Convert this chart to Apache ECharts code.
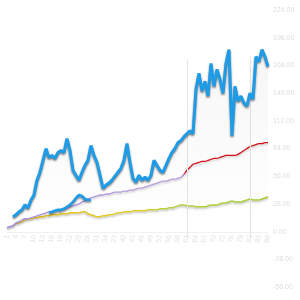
<!DOCTYPE html>
<html><head><meta charset="utf-8">
<script src="https://cdn.jsdelivr.net/npm/echarts@6/dist/echarts.min.js"></script>
<style>html,body{margin:0;padding:0;background:#fff}#c{width:300px;height:300px}</style>
</head><body><div id="c"></div>
<script>
var categories = ['1','2','3','4','5','6','7','8','9','10','11','12','13','14','15','16','17','18','19','20','21','22','23','24','25','26','27','28','29','30','31','32','33','34','35','36','37','38','39','40','41','42','43','44','45','46','47','48','49','50','51','52','53','54','55','56','57','58','59','60','61','62','63','64','65','66','67','68','69','70','71','72','73','74','75','76','77','78','79','80','81','82','83','84','85','86','87','88'];
var priceMain = [null,null,15,17,20,22,27,24,32,37,52,60,72,84,75,77,74,80,82,80,94,82,62,57,52,60,67,72,87,77,70,57,44,47,49,52,56,60,64,72,89,70,54,50,57,52,55,52,57,72,67,62,60,67,74,80,84,90,92,96,99,102,99,144,160,142,152,137,170,147,164,154,140,170,184,97,147,132,137,130,127,140,134,177,172,184,177,167];
var priceLow = [null,null,null,null,null,null,null,null,null,null,null,null,null,null,19,20,21,22,22,23,25,27,30,34,37,36,33,32,32,null,null,null,null,null,null,null,null,null,null,null,null,null,null,null,null,null,null,null,null,null,null,null,null,null,null,null,null,null,null,null,null,null,null,null,null,null,null,null,null,null,null,null,null,null,null,null,null,null,null,null,null,null,null,null,null,null,null,null];
var trendUpper = [4,5,6,9,10,12,13,13,14,15,16,17,18,19,20,20,21,22,22,23,24,25,26,27,28,30,31,33,34,35,36,37,37,38,38,39,40,40,40,41,41,42,42,43,44,44,45,46,47,48,49,50,51,51,52,53,53,54,55,58,62,65,68,69,70,71,71,72,73,74,74,75,76,77,77,77,77,78,80,82,84,86,87,88,89,89,90,90];
var trendLower = [4,5,6,8,9,10,12,13,13,14,14,15,15,16,16,17,17,17,18,18,18,19,19,19,19,20,20,18,17,16,15,15,16,16,17,17,18,19,19,20,20,20,21,21,21,21,21,22,22,22,22,23,23,23,24,24,25,26,27,27,26,26,26,25,25,25,25,26,27,27,27,28,29,29,30,31,30,30,30,31,32,33,32,32,32,33,34,35];
var yTickMin = -56, yTickMax = 224, yTickStep = 28;
var markX = ['61','82'];
var markTop = [174, 178], markBottom = -6;

var chart = echarts.init(document.getElementById('c'));
chart.setOption({
  animation: false,
  backgroundColor: '#fff',
  grid: {left: 7, right: 32, top: 10, bottom: 13},
  xAxis: {
    type: 'category', data: categories, boundaryGap: false, offset: -55,
    axisLine: {onZero: false, lineStyle: {color: '#f0f0f0'}},
    axisTick: {show: false},
    axisLabel: {color: '#e2e2e2', fontSize: 7, rotate: 80, interval: 2, margin: 3}
  },
  yAxis: {
    type: 'value', position: 'right', min: yTickMin, max: yTickMax, interval: yTickStep,
    splitLine: {show: false}, axisLine: {show: false}, axisTick: {show: false},
    axisLabel: {color: '#dedede', fontSize: 7, margin: 5, formatter: function(v){return v.toFixed(2);}}
  },
  series: [
    {type: 'line', data: trendLower, symbol: 'none', smooth: 0.3, z: 3,
      lineStyle: {width: 1.5, shadowColor: 'rgba(0,0,0,0.25)', shadowBlur: 2, shadowOffsetY: 1.5,
        color: {type: 'linear', x: 0, y: 0, x2: 1, y2: 0, colorStops: [
          {offset: 0, color: '#9a8fd0'}, {offset: 0.08, color: '#e6c21c'}, {offset: 0.5, color: '#e6cc2a'}, {offset: 0.62, color: '#b6d33a'}, {offset: 1, color: '#a6cc34'}]}}},
    {type: 'line', data: trendUpper, symbol: 'none', smooth: 0.3, z: 3,
      lineStyle: {width: 1.3, shadowColor: 'rgba(0,0,0,0.2)', shadowBlur: 2, shadowOffsetY: 1.5,
        color: {type: 'linear', x: 0, y: 0, x2: 1, y2: 0, colorStops: [
          {offset: 0, color: '#a48fe0'}, {offset: 0.67, color: '#b8a2e0'}, {offset: 0.68, color: '#d8121a'}, {offset: 1, color: '#d40e14'}]}}},
    {type: 'line', data: priceLow, symbol: 'none', z: 4,
      lineStyle: {width: 2.6, color: '#1e9ce8', shadowColor: 'rgba(0,0,0,0.45)', shadowBlur: 2, shadowOffsetY: 1.5}},
    {type: 'line', data: priceMain, symbol: 'none', z: 5,
      lineStyle: {width: 3, color: '#1e9ce8', shadowColor: 'rgba(0,0,0,0.5)', shadowBlur: 2, shadowOffsetY: 1.5},
      areaStyle: {origin: 'start', color: {type: 'linear', x: 0, y: 0, x2: 0, y2: 1, colorStops: [
        {offset: 0, color: 'rgba(0,0,0,0.05)'}, {offset: 0.75, color: 'rgba(0,0,0,0.0)'}]}},
      markLine: {symbol: 'none', silent: true, label: {show: false},
        lineStyle: {color: '#e4e4e4', width: 1, type: 'solid'},
        data: markX.map(function(c, k){return [{coord: [c, markTop[k]]}, {coord: [c, markBottom]}];})}}
  ]
});
</script></body></html>
